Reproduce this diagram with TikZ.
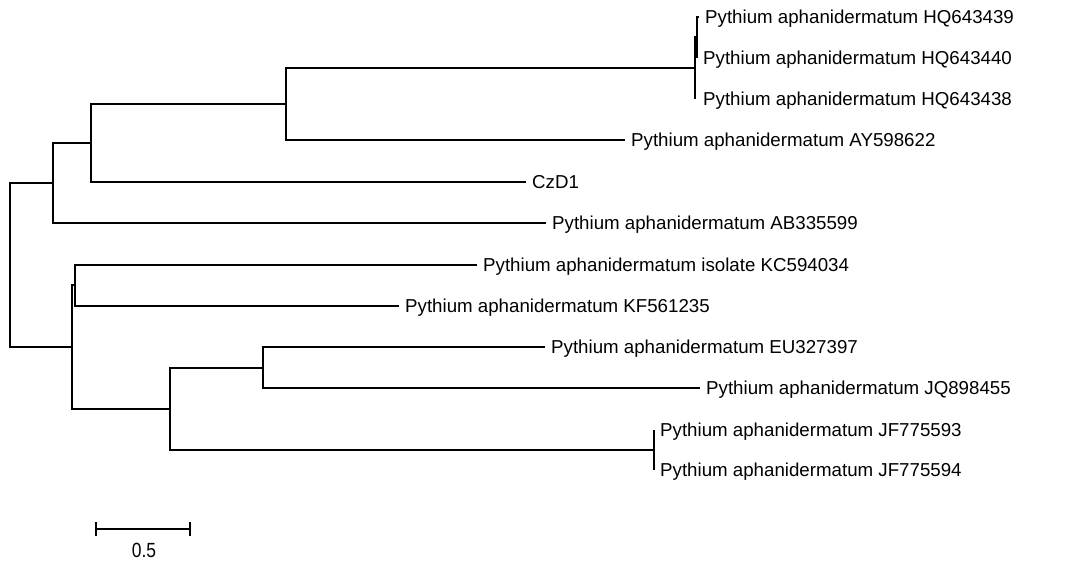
\documentclass[tikz,border=0pt]{standalone}
\usepackage{fontspec}
\setmainfont{Liberation Sans}
\begin{document}
\begin{tikzpicture}[x=1pt,y=-1pt,
  branch/.style={line width=1.9pt,black},
  taxon/.style={anchor=west,inner xsep=6pt,inner ysep=0pt,
    text height=13.4pt,text depth=0pt,
    font=\fontsize{18.7}{20}\selectfont},
  scalelbl/.style={inner sep=0pt,xscale=0.85,
    font=\fontsize{20.5}{22}\selectfont}]
\useasboundingbox (0,0) rectangle (1078,562);

% internal nodes (placed where they attach to their parent)
\coordinate (R)  at (10,265);
\coordinate (A)  at (53,183);
\coordinate (B)  at (91,143);
\coordinate (C)  at (286,104);
\coordinate (H2) at (695,68);
\coordinate (H1) at (697,37);
\coordinate (D)  at (72,347);
\coordinate (E)  at (75,285);
\coordinate (G)  at (170,409);
\coordinate (F)  at (263,368);
\coordinate (J)  at (654,450);

% taxa
\node[taxon] (t439) at (699,17)  {Pythium aphanidermatum HQ643439};
\node[taxon] (t440) at (697,58)  {Pythium aphanidermatum HQ643440};
\node[taxon,inner xsep=8pt] (t438) at (695,99) {Pythium aphanidermatum HQ643438};
\node[taxon] (tAY)  at (625,140) {Pythium aphanidermatum AY598622};
\node[taxon] (tCz)  at (526,182) {CzD1};
\node[taxon] (tAB)  at (546,223) {Pythium aphanidermatum AB335599};
\node[taxon] (tKC)  at (477,265) {Pythium aphanidermatum isolate KC594034};
\node[taxon] (tKF)  at (399,306) {Pythium aphanidermatum KF561235};
\node[taxon] (tEU)  at (545,347) {Pythium aphanidermatum EU327397};
\node[taxon] (tJQ)  at (700,388) {Pythium aphanidermatum JQ898455};
\node[taxon] (tJF3) at (654,430) {Pythium aphanidermatum JF775593};
\node[taxon] (tJF4) at (654,470) {Pythium aphanidermatum JF775594};

% branches
\draw[branch] (R) |- (A);
\draw[branch] (R) |- (D);
\draw[branch] (A) |- (B);
\draw[branch] (A) |- (tAB.west);
\draw[branch] (B) |- (C);
\draw[branch] (B) |- (tCz.west);
\draw[branch] (C) |- (H2);
\draw[branch] (C) |- (tAY.west);
\draw[branch] (H2) |- (H1);
\draw[branch] (H2) |- (t438.west);
\draw[branch] (H1) |- (t439.west);
\draw[branch] (H1) |- (t440.west);
\draw[branch] (D) |- (E);
\draw[branch] (D) |- (G);
\draw[branch] (E) |- (tKC.west);
\draw[branch] (E) |- (tKF.west);
\draw[branch] (G) |- (F);
\draw[branch] (G) |- (J);
\draw[branch] (F) |- (tEU.west);
\draw[branch] (F) |- (tJQ.west);
\draw[branch] (J) |- (tJF3.west);
\draw[branch] (J) |- (tJF4.west);

% scale bar
\coordinate (sbL) at (96,529);
\coordinate (sbR) at (190,529);
\draw[branch] (sbL) -- (sbR);
\draw[branch] ([yshift=-7pt]sbL) -- ([yshift=7pt]sbL);
\draw[branch] ([yshift=-7pt]sbR) -- ([yshift=7pt]sbR);
\node[scalelbl] (sbT) at (144,550) {0.5};
\end{tikzpicture}
\end{document}
